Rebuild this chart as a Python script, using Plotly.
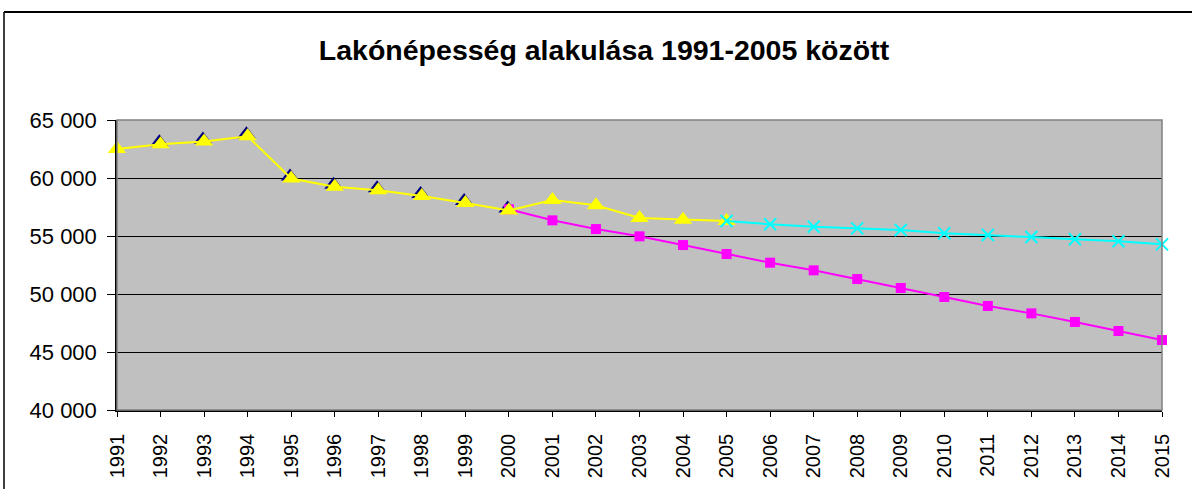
import plotly.graph_objects as go

years_hist = list(range(1991, 2001))
navy_vals = [62500, 62900, 63150, 63600, 59950, 59250, 58950, 58450, 57850, 57200]

years_yellow = list(range(1991, 2006))
yellow_vals = [62500, 62900, 63150, 63600, 59950, 59250, 58950, 58450, 57850, 57200,
               58100, 57650, 56550, 56400, 56300]

years_magenta = list(range(2000, 2016))
magenta_vals = [57300, 56350, 55600, 54970, 54220, 53450, 52700, 52040, 51290, 50520,
                49740, 48970, 48330, 47590, 46810, 46030]

years_cyan = list(range(2005, 2016))
cyan_vals = [56300, 56010, 55800, 55660, 55520, 55230, 55090, 54910, 54720, 54550, 54280]

all_years = list(range(1991, 2016))
y_ticks = [40000, 45000, 50000, 55000, 60000, 65000]
y_labels = ["40 000", "45 000", "50 000", "55 000", "60 000", "65 000"]

title = "Lakónépesség alakulása 1991-2005 között"

L, R, T, B = 117, 30, 120, 79
W, H = 1192, 489
pw, ph = W - L - R, H - T - B

X0, X1 = 1991, 2015
Y0, Y1 = 40000, 65000
# navy series sits a pixel or two up-left of the yellow markers (drawn underneath)
dx = 1.2 * (X1 - X0) / pw
dy = 2.0 * (Y1 - Y0) / ph

fig = go.Figure()
# base (hidden, slightly shifted) subplot holds the navy markers underneath
fig.add_trace(go.Scatter(x=years_hist, y=navy_vals, mode="markers",
                         xaxis="x", yaxis="y",
                         marker=dict(symbol="triangle-up", size=16, color="#000080"),
                         cliponaxis=False, showlegend=False))
fig.add_trace(go.Scatter(x=years_magenta, y=magenta_vals, mode="lines+markers",
                         xaxis="x2", yaxis="y2",
                         line=dict(color="#FF00FF", width=2),
                         marker=dict(symbol="square", size=10, color="#FF00FF"),
                         cliponaxis=False, showlegend=False))
fig.add_trace(go.Scatter(x=years_yellow, y=yellow_vals, mode="lines+markers",
                         xaxis="x2", yaxis="y2",
                         line=dict(color="#FFFF00", width=2),
                         marker=dict(symbol="triangle-up", size=16, color="#FFFF00"),
                         cliponaxis=False, showlegend=False))
fig.add_trace(go.Scatter(x=years_cyan, y=cyan_vals, mode="lines+markers",
                         xaxis="x2", yaxis="y2",
                         line=dict(color="#00FFFF", width=2),
                         marker=dict(symbol="x-thin", size=12,
                                     line=dict(color="#00FFFF", width=2)),
                         cliponaxis=False, showlegend=False))

fig.update_layout(
    width=W, height=H,
    margin=dict(l=L, r=R, t=T, b=B, autoexpand=False),
    paper_bgcolor="white",
    plot_bgcolor="#C0C0C0",
    font=dict(family="Liberation Sans, Arial", color="black"),
    title=dict(text="<b>" + title + "</b>", x=604 / W, xref="container",
               xanchor="center", y=1 - 50 / H, yref="container", yanchor="middle",
               font=dict(size=28.5)),
    xaxis=dict(range=[X0 + dx, X1 + dx], visible=False, showgrid=False,
               zeroline=False, automargin=False),
    yaxis=dict(range=[Y0 - dy, Y1 - dy], visible=False, showgrid=False,
               zeroline=False, automargin=False),
    xaxis2=dict(overlaying="x", range=[X0, X1], tickmode="array", tickvals=all_years,
                ticktext=[str(y) for y in all_years], tickangle=-90, side="bottom",
                tickfont=dict(size=20), ticks="outside", ticklen=5, tickcolor="black",
                ticklabelstandoff=9, automargin=False,
                showgrid=False, showline=True, linecolor="black", linewidth=1.5,
                zeroline=False),
    yaxis2=dict(overlaying="y", range=[Y0, Y1], tickmode="array", tickvals=y_ticks,
                ticktext=y_labels, tickfont=dict(size=22), ticks="outside", side="left",
                ticklen=8, tickcolor="black", ticklabelstandoff=6, automargin=False,
                showgrid=True, gridcolor="black",
                gridwidth=1, showline=True, linecolor="black", linewidth=1.5,
                zeroline=False),
    shapes=[
        dict(type="rect", xref="paper", yref="paper", x0=0, x1=1, y0=0, y1=1,
             line=dict(color="#808080", width=1.5), fillcolor="rgba(0,0,0,0)",
             layer="above"),
        dict(type="line", xref="paper", yref="paper",
             x0=(4 - L) / pw, x1=(W + 20 - L) / pw,
             y0=(H - B - 12) / ph, y1=(H - B - 12) / ph,
             line=dict(color="black", width=2)),
        dict(type="line", xref="paper", yref="paper",
             x0=(4 - L) / pw, x1=(4 - L) / pw,
             y0=(H - B - 12) / ph, y1=-(B + 20) / ph,
             line=dict(color="black", width=1.5)),
    ],
)

fig.write_html("out.html", config={"displayModeBar": False},
               post_script="document.body.style.margin='0px';document.body.style.overflow='hidden';")
